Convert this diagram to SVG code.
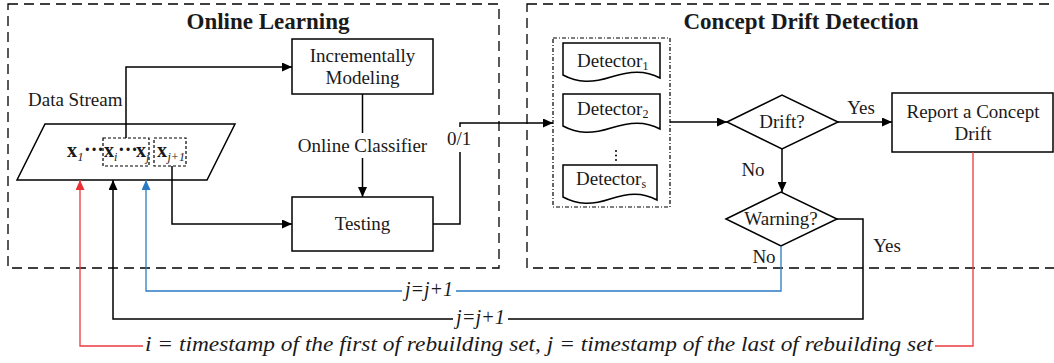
<svg xmlns="http://www.w3.org/2000/svg" width="1054" height="363" viewBox="0 0 1054 363">
<defs>
<marker id="ah" markerWidth="10" markerHeight="9" refX="10" refY="4.5" orient="auto" markerUnits="userSpaceOnUse"><path d="M0,0 L10,4.5 L0,9 z" fill="#000"/></marker>
<marker id="ahr" markerWidth="10" markerHeight="9" refX="10" refY="4.5" orient="auto" markerUnits="userSpaceOnUse"><path d="M0,0 L10,4.5 L0,9 z" fill="#ec2f35"/></marker>
<marker id="ahb" markerWidth="10" markerHeight="9" refX="10" refY="4.5" orient="auto" markerUnits="userSpaceOnUse"><path d="M0,0 L10,4.5 L0,9 z" fill="#2b7bc4"/></marker>
<style>
text { font-family: "Liberation Serif", "Times New Roman", serif; fill: #1a1a1a; }
.t { font-size: 19px; }
.c { text-anchor: middle; }
.title { font-size: 23px; font-weight: bold; }
.box { fill: #fff; stroke: #000; stroke-width: 1.5; }
.frame { fill: none; stroke: #000; stroke-width: 1.3; stroke-dasharray: 10 6; }
.dot { fill: none; stroke: #000; stroke-width: 1.2; stroke-dasharray: 3 2; }
.dashdot { fill: none; stroke: #000; stroke-width: 1.2; stroke-dasharray: 4 2 1 2; }
.line { fill: none; stroke: #000; stroke-width: 1.5; }
.red { fill: none; stroke: #ec3a3f; stroke-width: 1.3; }
.blue { fill: none; stroke: #2b7bc4; stroke-width: 1.3; }
.lab { font-size: 20px; font-style: italic; }
.xb { font-size: 20px; font-weight: bold; }
.sub { font-size: 12px; font-style: italic; }
.s { font-size: 12px; }
</style>
</defs>
<rect x="0" y="0" width="1054" height="363" fill="#fff"/>

<g id="frame-online">
<rect class="frame" x="8" y="4" width="491" height="264"/>
<text class="title c" x="268" y="28.5">Online Learning</text>
</g>
<g id="frame-drift">
<rect class="frame" x="527" y="4" width="540" height="264"/>
<text class="title c" x="801" y="28.5">Concept Drift Detection</text>
</g>

<g id="data-stream">
<text class="t" x="28" y="106">Data Stream</text>
<polygon class="box" points="45,124 235,124 207,180 17,180"/>
<rect class="dot" x="103" y="138" width="46" height="28"/>
<rect class="dot" x="154" y="138" width="32" height="28"/>
<text class="xb" x="67" y="157">x</text><text class="sub" x="77.5" y="161">1</text>
<text class="xb" x="84" y="156">···</text>
<text class="xb" x="104" y="157">x</text><text class="sub" x="114" y="161">i</text>
<text class="xb" x="118" y="156">···</text>
<text class="xb" x="136" y="157">x</text><text class="sub" x="146" y="161">j</text>
<text class="xb" x="157" y="157">x</text><text class="sub" x="167.5" y="161">j+1</text>
</g>

<g id="incrementally-modeling">
<rect class="box" x="292" y="39" width="141" height="55"/>
<text class="t c" x="362.5" y="62">Incrementally</text>
<text class="t c" x="362.5" y="84">Modeling</text>
</g>

<g id="testing">
<rect class="box" x="292" y="197" width="141" height="54"/>
<text class="t c" x="362.5" y="230">Testing</text>
</g>

<g id="detectors">
<rect class="dashdot" x="553" y="38" width="117" height="169"/>
<path class="box" d="M563,43 H660 V78 C645,70 630,71 611,77 S578,83 563,75 Z"/>
<text class="t" x="577" y="67">Detector<tspan class="s" dy="3">1</tspan></text>
<path class="box" d="M563,94 H660 V129 C645,121 630,122 611,128 S578,134 563,126 Z"/>
<text class="t" x="577" y="115">Detector<tspan class="s" dy="3">2</tspan></text>
<circle cx="616" cy="151" r="1" fill="#000"/>
<circle cx="616" cy="155.5" r="1" fill="#000"/>
<circle cx="616" cy="160" r="1" fill="#000"/>
<path class="box" d="M563,165 H657 V200 C642,192 628,193 610,199 S578,205 563,197 Z"/>
<text class="t" x="576" y="185">Detector<tspan class="s" dy="3">s</tspan></text>
</g>

<g id="drift">
<polygon class="box" points="727,122 782,95 838,122 782,149"/>
<text class="t c" x="782" y="128">Drift?</text>
</g>

<g id="report">
<rect class="box" x="892" y="93" width="161" height="59"/>
<text class="t c" x="973" y="118">Report a Concept</text>
<text class="t c" x="973" y="140">Drift</text>
</g>

<g id="warning">
<polygon class="box" points="726,219 781,192 837,219 781,246"/>
<text class="t c" x="781" y="225">Warning?</text>
</g>

<g id="connectors">
<path class="line" d="M126,138 V67 H292" marker-end="url(#ah)"/>
<path class="line" d="M172,166 V224 H292" marker-end="url(#ah)"/>
<path class="line" d="M362.5,94 V133"/>
<path class="line" d="M362.5,158 V197" marker-end="url(#ah)"/>
<text class="t c" x="362.5" y="152">Online Classifier</text>
<path class="line" d="M433,224 H460 V152"/>
<path class="line" d="M460,127 V123 H553" marker-end="url(#ah)"/>
<text class="t" x="447" y="145">0/1</text>
<path class="line" d="M670,122 H727" marker-end="url(#ah)"/>
<path class="line" d="M838,122 H892" marker-end="url(#ah)"/>
<text class="t c" x="861" y="114">Yes</text>
<path class="line" d="M782,149 V192" marker-end="url(#ah)"/>
<text class="t c" x="753" y="176">No</text>
<text class="t c" x="887" y="252">Yes</text>
<text class="t c" x="764" y="263">No</text>

<path class="blue" d="M781,246 V291 H456"/>
<path class="blue" d="M402,291 H146 V180" marker-end="url(#ahb)"/>
<text class="lab" x="405" y="296" textLength="48" lengthAdjust="spacingAndGlyphs">j=j+1</text>

<path class="line" d="M837,219 H863 V319 H508"/>
<path class="line" d="M453,319 H113 V180" marker-end="url(#ah)"/>
<text class="lab" x="456" y="324" textLength="49" lengthAdjust="spacingAndGlyphs">j=j+1</text>

<path class="red" d="M973,152 V346 H935"/>
<path class="red" d="M143,346 H80 V180" marker-end="url(#ahr)"/>
<text class="lab" x="145" y="351" textLength="788" lengthAdjust="spacingAndGlyphs" style="font-size:21px">i = timestamp of the first of rebuilding set, j = timestamp of the last of rebuilding set</text>
</g>
</svg>
